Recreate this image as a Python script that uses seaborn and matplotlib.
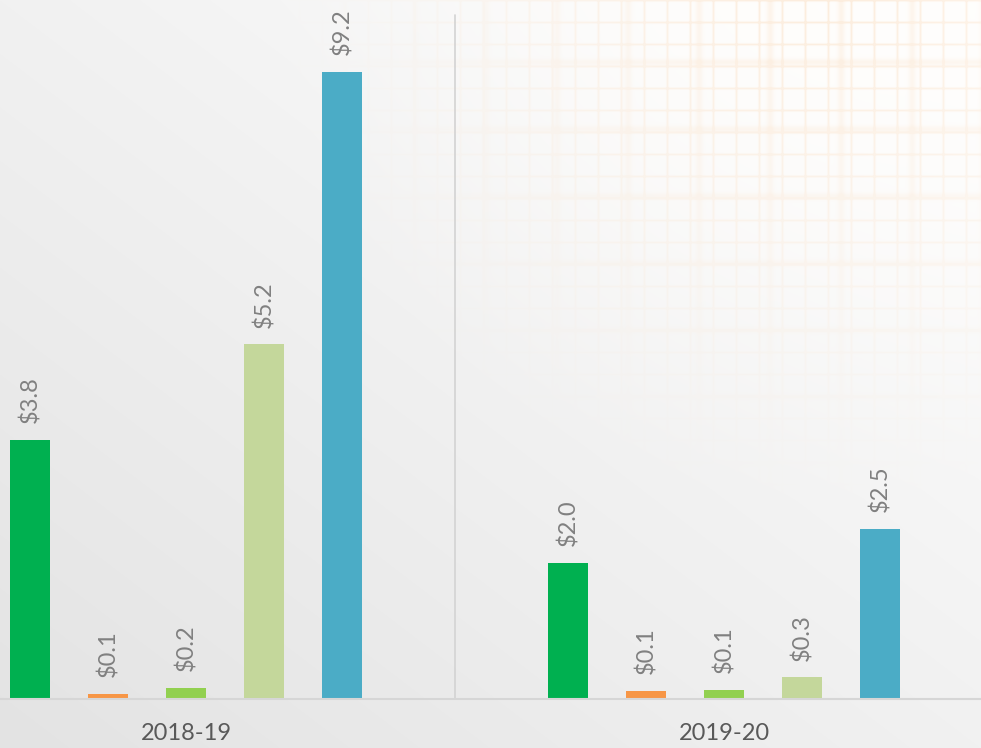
import numpy as np
import pandas as pd
import seaborn as sns
import matplotlib.pyplot as plt

# chart data
years = ["2018-19", "2019-20"]
series = ["Series 1", "Series 2", "Series 3", "Series 4", "Series 5"]
values_2018 = [3.8, 0.08, 0.16, 5.2, 9.2]
values_2019 = [2.0, 0.12, 0.13, 0.32, 2.5]
labels_2018 = ["$3.8", "$0.1", "$0.2", "$5.2", "$9.2"]
labels_2019 = ["$2.0", "$0.1", "$0.1", "$0.3", "$2.5"]
colors = ["#00B050", "#F79646", "#92D050", "#C4D79B", "#4BACC6"]

df = pd.DataFrame({
    "year": [years[0]] * 5 + [years[1]] * 5,
    "series": series * 2,
    "value": values_2018 + values_2019,
})

sns.set_theme(style="white")
plt.rcParams["font.family"] = ["Lato", "DejaVu Sans"]

W, H = 981, 748
fig = plt.figure(figsize=(W / 100, H / 100), dpi=100)

# background: soft grey gradient with faint orange plaid in the top right
yy, xx = np.mgrid[0:H, 0:W]
g = 227 + 28 * (0.5 * (1 - yy / H) + 0.5 * xx / W)
img = np.dstack([g, g, g]) / 255.0
dist = np.hypot(xx - 820, yy + 40)
fade = np.clip(1 - dist / 540, 0, 1) ** 1.2
plaid = np.clip(
    (0.5 + 0.5 * np.cos(2 * np.pi * xx / 23.0)) ** 40
    + (0.5 + 0.5 * np.cos(2 * np.pi * yy / 22.0)) ** 40
    + 0.6 * (0.5 + 0.5 * np.cos(2 * np.pi * xx / 71.0 + 1.0)) ** 40
    + 0.6 * (0.5 + 0.5 * np.cos(2 * np.pi * yy / 67.0 + 0.5)) ** 40,
    0, 1)
white_mix = fade[..., None]
img = img * (1 - white_mix) + np.array([1.0, 0.995, 0.988]) * white_mix
orange = np.array([0.98, 0.84, 0.70])
a = (0.45 * plaid * fade)[..., None]
img = img * (1 - a) + orange * a

bg = fig.add_axes([0, 0, 1, 1])
bg.imshow(img, aspect="auto", extent=(0, W, H, 0))
bg.axis("off")

base_px = 699
px_per_unit = 68.2
ax = fig.add_axes([0, (H - base_px) / H, 1, base_px / H])
ax.set_facecolor("none")

sns.barplot(data=df, x="year", y="value", hue="series", palette=colors,
            width=0.725, gap=0.475, legend=False, ax=ax, saturation=1,
            linewidth=0)

group_px = 538
x0 = 186
ax.set_xlim(-x0 / group_px, 1 + (W - 724) / group_px)
ax.set_ylim(0, base_px / px_per_unit)

# value labels
for i, cont in enumerate(ax.containers):
    ax.bar_label(cont, labels=[labels_2018[i], labels_2019[i]], rotation=90,
                 padding=12, color="#808080", fontsize=17)

ax.axvline(0.5, ymin=0, ymax=(base_px - 15) / base_px, color="#d3d3d3", lw=1.2)

for s in ["top", "left", "right"]:
    ax.spines[s].set_visible(False)
ax.spines["bottom"].set_color("#d6d6d6")
ax.spines["bottom"].set_linewidth(1.5)
ax.set_yticks([])
ax.set_xlabel("")
ax.set_ylabel("")
ax.tick_params(axis="x", length=0, pad=17, labelsize=17, labelcolor="#595959")

fig.savefig("out.png", dpi=100)
